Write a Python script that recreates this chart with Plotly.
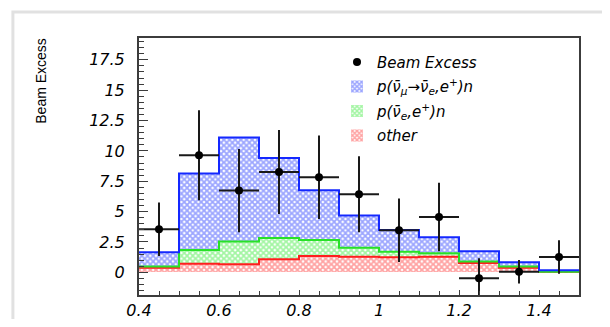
import plotly.graph_objects as go
import numpy as np

# ---- data ----
bin_edges = [0.4, 0.5, 0.6, 0.7, 0.8, 0.9, 1.0, 1.1, 1.2, 1.3, 1.4, 1.5]
bin_centers = [0.45, 0.55, 0.65, 0.75, 0.85, 0.95, 1.05, 1.15, 1.25, 1.35, 1.45]
other = [0.38, 0.71, 0.66, 1.07, 1.35, 1.29, 1.24, 1.29, 0.77, 0.38, 0.05]
nue_bkg = [0.09, 1.13, 1.87, 1.76, 1.31, 0.74, 0.46, 0.28, 0.11, 0.09, 0.00]
oscillation = [1.18, 6.29, 8.57, 6.59, 4.10, 2.64, 1.79, 1.31, 0.85, 0.35, 0.11]
excess = [3.54, 9.64, 6.73, 8.27, 7.83, 6.43, 3.46, 4.56, -0.49, 0.05, 1.26]
excess_err = [2.2, 3.7, 3.43, 3.46, 3.43, 3.13, 2.62, 2.82, 1.64, 0.97, 1.38]

x_tickvals = [0.4, 0.6, 0.8, 1.0, 1.2, 1.4]
x_ticktext = ["0.4", "0.6", "0.8", "1", "1.2", "1.4"]
y_tickvals = [0, 2.5, 5, 7.5, 10, 12.5, 15, 17.5]
y_ticktext = ["0", "2.5", "5", "7.5", "10", "12.5", "15", "17.5"]

series_names = ["p(ν̄<sub>μ</sub>→ν̄<sub>e</sub>,e<sup>+</sup>)n",
                "p(ν̄<sub>e</sub>,e<sup>+</sup>)n",
                "other",
                "Beam Excess"]

Y_MIN, Y_MAX = -1.87, 19.3

# cumulative tops
red_top = np.array(other)
green_top = red_top + np.array(nue_bkg)
blue_top = green_top + np.array(oscillation)

fig = go.Figure()

TICKFONT = dict(family="DejaVu Sans", size=16, color="black", style="italic")

comps = [
    (other, series_names[2], "rgb(255,70,70)", 4),
    (nue_bkg, series_names[1], "rgb(70,235,70)", 3),
    (oscillation, series_names[0], "rgb(55,75,255)", 2),
]
for vals, name, fg, rank in comps:
    fig.add_trace(go.Bar(
        x=bin_centers, y=vals, width=0.1, name=name, legendrank=rank, legendgroup=name,
        marker=dict(color=fg, line=dict(width=0),
                    pattern=dict(shape="x", fgcolor=fg, bgcolor="white",
                                 size=4, solidity=0.7)),
        showlegend=True,
    ))

# step outlines
for top, col in [(red_top, "rgb(255,30,30)"), (green_top, "rgb(40,225,40)"), (blue_top, "rgb(20,40,255)")]:
    fig.add_trace(go.Scatter(
        x=bin_edges, y=list(top) + [top[-1]], mode="lines",
        line=dict(shape="hv", color=col, width=2), showlegend=False, hoverinfo="skip"))

err_minus = [min(e, y - Y_MIN) for y, e in zip(excess, excess_err)]
fig.add_trace(go.Scatter(
    x=bin_centers, y=excess, mode="markers", name="<i>" + series_names[3] + "</i>", legendrank=1,
    legendgroup="data",
    marker=dict(color="black", size=8),
    error_y=dict(type="data", symmetric=False, array=excess_err, arrayminus=err_minus,
                 color="rgb(25,25,25)", thickness=2, width=0),
    error_x=dict(type="constant", value=0.05, color="rgb(25,25,25)", thickness=2, width=0),
))

# the page body adds 8px margins on every side, so the figure is made smaller to avoid overflow
fig.update_layout(
    width=594, height=311,
    margin=dict(l=131, r=23, t=30, b=24, autoexpand=False),
    paper_bgcolor="white", plot_bgcolor="white",
    barmode="stack", bargap=0,
    showlegend=True,
    legend=dict(x=0.45, y=0.97, xanchor="left", yanchor="top",
                bgcolor="rgba(0,0,0,0)",
                font=dict(family="DejaVu Sans", size=15, style="italic", color="black"),
                traceorder="grouped", itemwidth=30, tracegroupgap=2),
    xaxis=dict(range=[0.4, 1.5], tickvals=x_tickvals, automargin=False,
               ticktext=["<i>" + t + "</i>" for t in x_ticktext],
               ticks="inside", ticklen=5, tickwidth=1, tickcolor="rgb(60,60,60)",
               minor=dict(dtick=0.05, tick0=0.4, ticks="inside", ticklen=4, tickcolor="rgb(60,60,60)"),
               showline=True, mirror=True, linecolor="rgb(60,60,60)", linewidth=2,
               showgrid=False, zeroline=False, tickfont=TICKFONT, ticklabelstandoff=0),
    yaxis=dict(range=[Y_MIN, Y_MAX], tickvals=y_tickvals, automargin=False,
               ticktext=["<i>" + t + "</i>" for t in y_ticktext],
               ticks="inside", ticklen=9, tickwidth=1, tickcolor="rgb(60,60,60)",
               minor=dict(dtick=0.5, tick0=0, ticks="inside", ticklen=5, tickcolor="rgb(60,60,60)"),
               showline=True, mirror=True, linecolor="rgb(60,60,60)", linewidth=2,
               showgrid=False, zeroline=False, tickfont=TICKFONT, ticklabelstandoff=9),
    shapes=[dict(type="rect", xref="paper", yref="paper", x0=-0.2866, x1=1.09, y0=-0.2, y1=1.101,
                 line=dict(color="rgb(225,225,225)", width=3), layer="below")],
    annotations=[dict(text="Beam Excess", xref="paper", yref="paper", x=-0.222, y=0.835,
                      textangle=-90, showarrow=False, xanchor="center", yanchor="middle",
                      font=dict(family="Liberation Sans Narrow, Liberation Sans, Arial", size=14, color="black"))],
)

fig.write_html("out.html")
